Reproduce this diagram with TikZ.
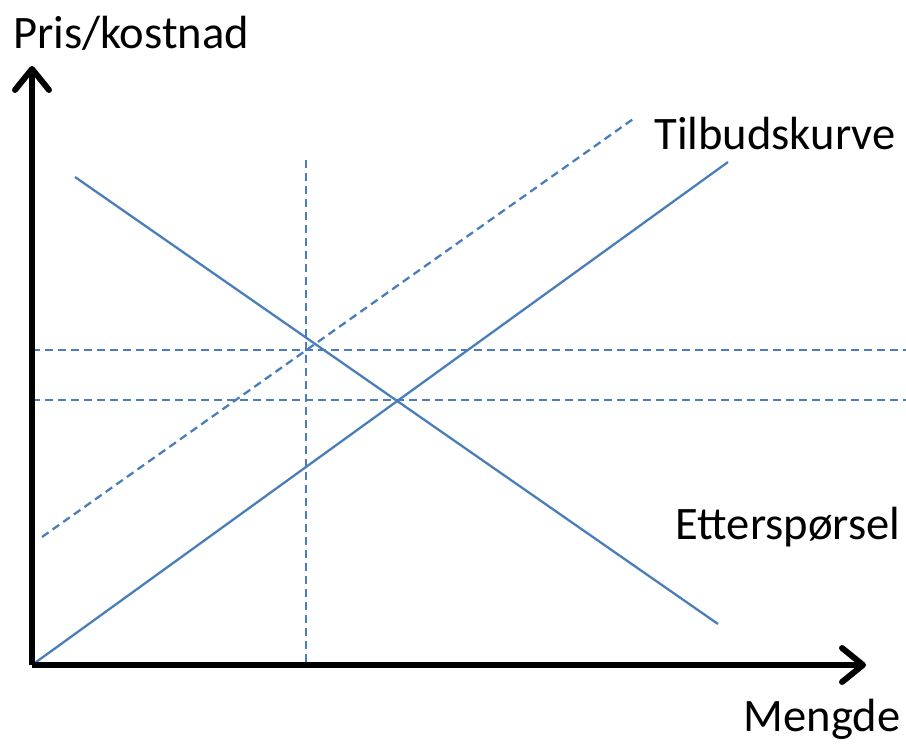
\documentclass[tikz,border=0pt]{standalone}
\usepackage{fontspec}
\setmainfont{Carlito}
\usepackage{xcolor}
\usetikzlibrary{arrows.meta,calc}
\definecolor{linjeblaa}{RGB}{74,126,187}

\begin{document}
\begin{tikzpicture}[x=0.02cm,y=-0.02cm,
	akse/.style={line width=3.4pt,-{Straight Barb[length=0.42cm,width=0.68cm,round]}},
	kurve/.style={line width=1.3pt,linjeblaa},
	hjelp/.style={line width=1.3pt,linjeblaa,dash pattern=on 0.16cm off 0.1cm},
	etikett/.style={font=\fontsize{26.5}{30}\selectfont,inner sep=0pt}]
	\useasboundingbox (0,0) rectangle (906,747);
	% punkter
	\coordinate (O) at (32,665);
	\coordinate (ytopp) at (32,66);
	\coordinate (xende) at (866,665);
	\coordinate (s1) at (728,162);
	\coordinate (d0) at (75,177);
	\coordinate (d1) at (718,624);
	\coordinate (t0) at (42,537);
	\coordinate (t1) at (636,117);
	\coordinate (v0) at (306,160);
	\coordinate (v1) at (306,667);
	\coordinate (h1a) at (32,350);
	\coordinate (h1b) at (906,350);
	\coordinate (h2a) at (32,400);
	\coordinate (h2b) at (906,400);
	% hjelpelinjer
	\draw[hjelp] (v0) -- (v1);
	\draw[hjelp] (h1a) -- (h1b);
	\draw[hjelp] (h2a) -- (h2b);
	\draw[hjelp] (t0) -- (t1);
	% kurver
	\draw[kurve] (O) -- (s1);
	\draw[kurve] (d0) -- (d1);
	% akser
	\draw[akse] (O) -- (ytopp);
	\draw[akse] (O) -- (xende);
	% tekst
	\node[etikett] (pris) at (131,33) {Pris/kostnad};
	\node[etikett] (mengde) at (822,719) {Mengde};
	\node[etikett] (tilbud) at (775,134) {Tilbudskurve};
	\node[etikett] (ettersp) at (788,527) {Etterspørsel};
\end{tikzpicture}
\end{document}
